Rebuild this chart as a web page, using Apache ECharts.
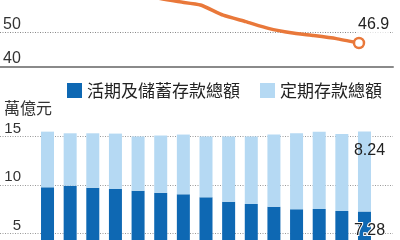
<!DOCTYPE html>
<html><head><meta charset="utf-8">
<script src="https://cdn.jsdelivr.net/npm/echarts@6/dist/echarts.min.js"></script>
<style>html,body{margin:0;padding:0;background:#fff}#c{width:400px;height:240px}</style>
</head><body><div id="c"></div>
<script>
// Periods (unlabelled in the crop), one per bar
const categories = ['1','2','3','4','5','6','7','8','9','10','11','12','13','14','15'];
// 活期及儲蓄存款總額 (萬億元)
const demandSavings = [9.76, 9.93, 9.72, 9.59, 9.41, 9.21, 9.04, 8.73, 8.28, 8.04, 7.76, 7.49, 7.53, 7.32, 7.28];
// 定期存款總額 (萬億元)
const timeDeposits = [5.74, 5.40, 5.61, 5.71, 5.59, 5.89, 6.16, 6.27, 6.72, 6.96, 7.44, 7.84, 7.97, 7.94, 8.24];
// upper line (%)
const ratio = [64.5, 64.0, 63.5, 63.0, 62.0, 60.3, 59.1, 58.1, 55.1, 53.2, 51.2, 49.9, 49.1, 48.2, 46.9];
const lineTicks = [40, 50];
const barTicks = [5, 10, 15];

const legendNames = ['活期及儲蓄存款總額', '定期存款總額'];
const last = categories.length - 1;
const numFont = 'Liberation Sans';
const cjkFont = 'Noto Sans CJK TC';
const lineMin = lineTicks[0], lineMax = lineTicks[lineTicks.length - 1];
const barMax = barTicks[barTicks.length - 1];

const hiddenY = (g, min, max) => ({gridIndex: g, type: 'value', min, max, show: false, splitLine: {show: false}});

const chart = echarts.init(document.getElementById('c'), null, {renderer: 'canvas'});
chart.setOption({
  animation: false,
  title: {text: '萬億元', left: -1, top: 95, textStyle: {fontSize: 16, fontWeight: 'normal', color: '#333', fontFamily: cjkFont}},
  legend: {
    left: 62, top: 77, itemWidth: 15, itemHeight: 15, itemGap: 20, icon: 'rect',
    data: legendNames,
    textStyle: {fontSize: 17, color: '#222', fontFamily: cjkFont}
  },
  grid: [
    {left: 30.7, width: 339.6, top: 32.5, height: 34, outerBoundsMode: 'none'},
    {left: 36.2, width: 339.6, top: 136.5, height: 145.5, outerBoundsMode: 'none'},
    {left: 0, width: 393, top: 32.5, height: 34, outerBoundsMode: 'none'},
    {left: 0, width: 393, top: 136.5, height: 145.5, outerBoundsMode: 'none'}
  ],
  xAxis: [
    {gridIndex: 0, type: 'category', data: categories, show: false},
    {gridIndex: 1, type: 'category', data: categories, show: false},
    {gridIndex: 2, type: 'value', min: 0, max: 1,
     axisLine: {show: true, onZero: false, lineStyle: {color: '#8a8a8a', width: 2}},
     axisTick: {show: false}, axisLabel: {show: false}, splitLine: {show: false}},
    {gridIndex: 3, type: 'value', min: 0, max: 1, show: false, splitLine: {show: false}}
  ],
  yAxis: [
    hiddenY(0, lineMin, lineMax),
    hiddenY(1, 0, barMax),
    {gridIndex: 2, type: 'value', min: lineMin, max: lineMax, interval: 10,
     axisLine: {show: false}, axisTick: {show: false},
     axisLabel: {inside: true, margin: 3, align: 'left', verticalAlign: 'bottom', lineHeight: 16,
                 fontSize: 16, color: '#333', fontFamily: numFont},
     splitLine: {show: true, lineStyle: {type: [1, 1.5], color: '#888', width: 1}}},
    {gridIndex: 3, type: 'value', min: 0, max: barMax, interval: 5,
     axisLine: {show: false}, axisTick: {show: false},
     axisLabel: {inside: true, margin: 21, align: 'right', verticalAlign: 'bottom', lineHeight: 16,
                 fontSize: 15, color: '#333', fontFamily: numFont},
     splitLine: {show: true, lineStyle: {type: [1, 1.5], color: '#999', width: 1}}}
  ],
  series: [
    {name: legendNames[0], type: 'bar', stack: 'd', xAxisIndex: 1, yAxisIndex: 1, barWidth: 13, clip: false,
     itemStyle: {color: '#0e68b3'},
     data: demandSavings.map((v, i) => ({value: v,
       label: i === last ? {show: true, position: 'insideTop', distance: 11, offset: [5, 0], formatter: String(v),
         fontSize: 16, color: '#222', fontFamily: numFont, textBorderColor: '#fff', textBorderWidth: 2} : {show: false}}))},
    {name: legendNames[1], type: 'bar', stack: 'd', xAxisIndex: 1, yAxisIndex: 1, barWidth: 13, clip: false,
     itemStyle: {color: '#b5d9f3'},
     data: timeDeposits.map((v, i) => ({value: v,
       label: i === last ? {show: true, position: 'insideTop', distance: 11, offset: [5, 0], formatter: String(v),
         fontSize: 16, color: '#222', fontFamily: numFont} : {show: false}}))},
    {type: 'line', xAxisIndex: 0, yAxisIndex: 0, clip: false, smooth: 0.15,
     lineStyle: {color: '#e9783a', width: 3.5}, itemStyle: {color: '#fff', borderColor: '#e9783a', borderWidth: 2.5},
     data: ratio.map((v, i) => ({value: v, symbol: i === last ? 'circle' : 'none', symbolSize: 10,
       label: i === last ? {show: true, position: 'top', align: 'left', offset: [-2, 0], distance: 4,
         backgroundColor: '#fff', padding: [0, 1, 0, 1],
         formatter: String(v), fontSize: 16, color: '#222', fontFamily: numFont} : {show: false}}))}
  ]
});
</script></body></html>
